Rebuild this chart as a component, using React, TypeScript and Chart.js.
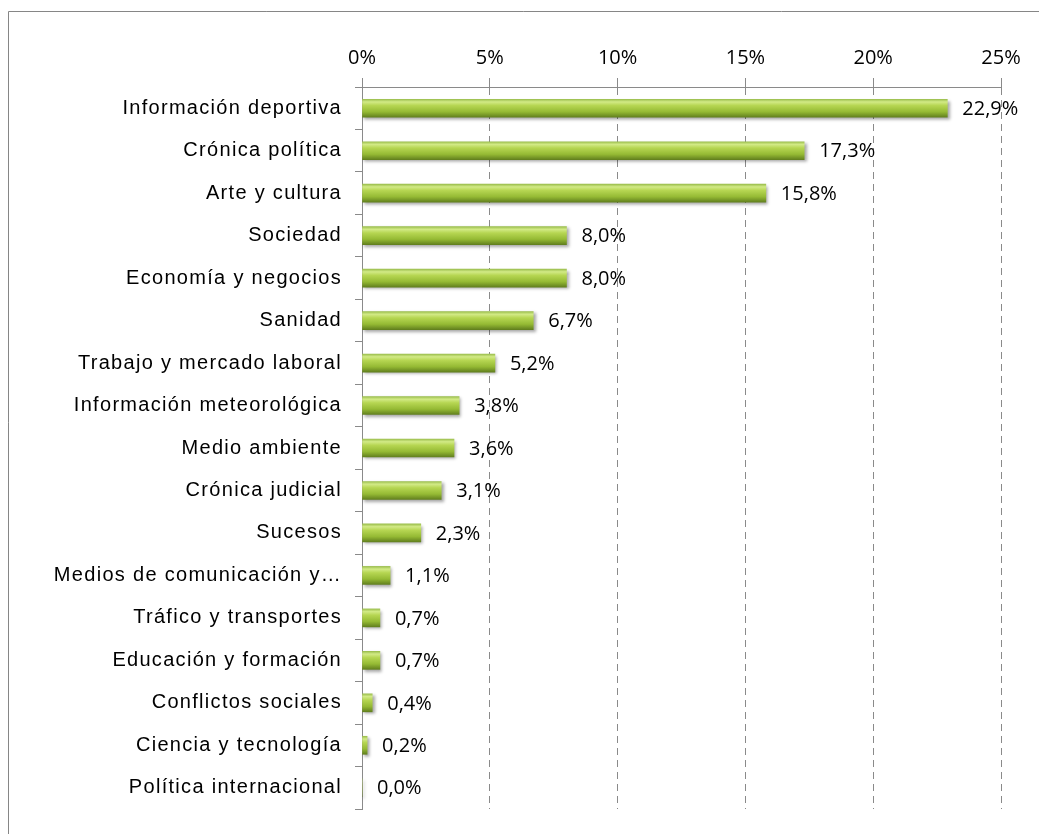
import React, { useEffect, useRef } from 'react';
import { Chart, registerables } from 'chart.js';

Chart.register(...registerables);

const categories: string[] = [
  'Información deportiva',
  'Crónica política',
  'Arte y cultura',
  'Sociedad',
  'Economía y negocios',
  'Sanidad',
  'Trabajo y mercado laboral',
  'Información meteorológica',
  'Medio ambiente',
  'Crónica judicial',
  'Sucesos',
  'Medios de comunicación y…',
  'Tráfico y transportes',
  'Educación y formación',
  'Conflictos sociales',
  'Ciencia y tecnología',
  'Política internacional',
];

const shares: number[] = [22.9, 17.3, 15.8, 8.0, 8.0, 6.7, 5.2, 3.8, 3.6, 3.1, 2.3, 1.1, 0.7, 0.7, 0.4, 0.2, 0.0];

const axisMin = 0;
const axisMax = 25;
const axisStep = 5;

const GRID = '#8a8a8a';
const BAR_H = 18;

function barGradient(ctx: any) {
  const chart = ctx.chart;
  const yScale = chart.scales?.y;
  if (!yScale || ctx.dataIndex === undefined) return '#a0c23a';
  const yc = yScale.getPixelForValue(ctx.dataIndex);
  if (!Number.isFinite(yc)) return '#a0c23a';
  const g = chart.ctx.createLinearGradient(0, yc - BAR_H / 2, 0, yc + BAR_H / 2);
  g.addColorStop(0, '#9cbf4e');
  g.addColorStop(0.15, '#d2ea86');
  g.addColorStop(0.35, '#b6d652');
  g.addColorStop(0.7, '#95ba34');
  g.addColorStop(1, '#62801e');
  return g;
}

const framePlugin = {
  id: 'frame',
  beforeDraw(chart: any) {
    const c = chart.ctx;
    c.save();
    c.fillStyle = '#ffffff';
    c.fillRect(0, 0, chart.width, chart.height);
    c.strokeStyle = '#868686';
    c.lineWidth = 1;
    c.beginPath();
    c.moveTo(8.5, chart.height);
    c.lineTo(8.5, 11.5);
    c.lineTo(chart.width, 11.5);
    c.stroke();
    c.restore();
  },
  beforeDatasetsDraw(chart: any) {
    const c = chart.ctx;
    c.save();
    c.shadowColor = 'rgba(0,0,0,0.35)';
    c.shadowOffsetX = 2;
    c.shadowOffsetY = 2;
    c.shadowBlur = 3;
  },
  afterDatasetsDraw(chart: any) {
    const c = chart.ctx;
    c.restore();
    const meta = chart.getDatasetMeta(0);
    c.save();
    c.font = '20px "Open Sans"';
    c.fillStyle = '#000000';
    c.textAlign = 'left';
    c.textBaseline = 'middle';
    meta.data.forEach((el: any, i: number) => {
      const v = shares[i];
      const txt = v.toFixed(1).replace('.', ',') + '%';
      c.fillText(txt, el.x + 15, el.y + 1);
    });
    c.restore();
    (c as any).letterSpacing = '1.3px';
  },
  afterDraw(chart: any) {
    (chart.ctx as any).letterSpacing = '0px';
  },
};

export default function App() {
  const ref = useRef<HTMLCanvasElement | null>(null);

  useEffect(() => {
    if (!ref.current) return;
    const chart = new Chart(ref.current, {
      type: 'bar',
      data: {
        labels: categories,
        datasets: [
          {
            data: shares,
            backgroundColor: barGradient as any,
            borderWidth: 0,
            barThickness: BAR_H,
          },
        ],
      },
      options: {
        indexAxis: 'y',
        responsive: false,
        animation: false,
        devicePixelRatio: 1,
        layout: { padding: { top: 0, left: 0, right: 38, bottom: 23 } },
        plugins: {
          legend: { display: false },
          tooltip: { enabled: false },
          title: { display: false },
        },
        scales: {
          x: {
            position: 'top',
            min: axisMin,
            max: axisMax,
            ticks: {
              stepSize: axisStep,
              color: '#000000',
              font: { family: '"Open Sans"', size: 20 },
              padding: 8,
              callback: (v: any) => v + '%',
            },
            grid: {
              color: GRID,
              lineWidth: 1,
              tickLength: 9,
              tickBorderDash: [],
            },
            border: { display: true, color: GRID, dash: [7, 5] },
            afterFit: (s: any) => {
              s.height = 87;
            },
          },
          y: {
            ticks: {
              color: '#000000',
              font: { family: '"Liberation Sans"', size: 20 },
              padding: 13,
              autoSkip: false,
              z: 1,
            },
            grid: {
              drawOnChartArea: false,
              drawTicks: true,
              tickLength: 7,
              offset: true,
              color: GRID,
            },
            border: { display: true, color: GRID },
            afterFit: (s: any) => {
              s.width = 362;
            },
          },
        },
      },
      plugins: [framePlugin],
    });
    return () => chart.destroy();
  }, []);

  return (
    <div style={{ position: 'absolute', left: 0, top: 0, width: 1039, height: 834, background: '#fff' }}>
      <canvas ref={ref} width={1039} height={834} style={{ display: 'block' }} />
    </div>
  );
}
